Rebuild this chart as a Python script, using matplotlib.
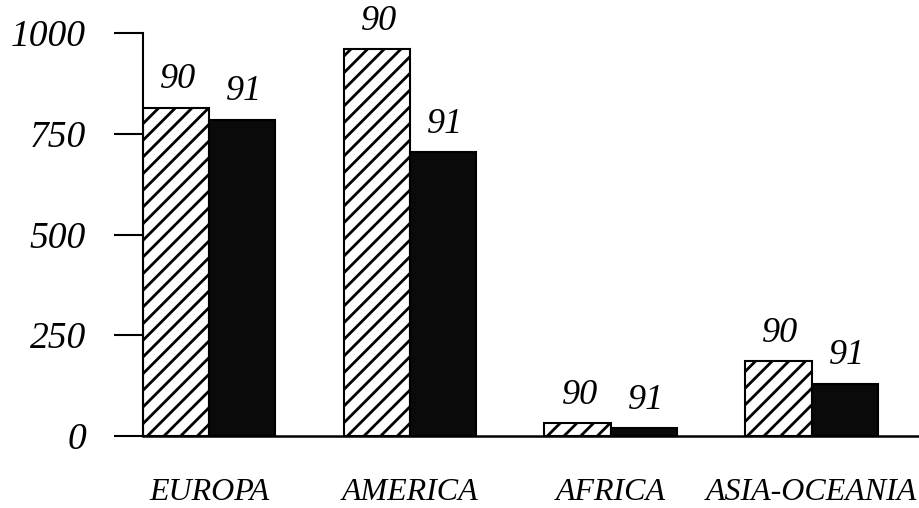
import matplotlib
matplotlib.use("Agg")
import matplotlib.pyplot as plt
import numpy as np

categories = ["EUROPA", "AMERICA", "AFRICA", "ASIA-OCEANIA"]
values_90 = [815, 960, 32, 186]
values_91 = [785, 705, 20, 130]
series_labels = ["90", "91"]
yticks = [0, 250, 500, 750, 1000]

plt.rcParams['font.family'] = ['Liberation Serif', 'DejaVu Serif']
plt.rcParams['hatch.linewidth'] = 2.0

fig = plt.figure(figsize=(9.2, 5.08), dpi=100)
ax = fig.add_axes([143/920, 72/508, (918-143)/920, (436-33)/508])

x = np.arange(len(categories))
w = 0.33
ax.bar(x - w/2, values_90, width=w, facecolor='white', edgecolor='black',
       hatch='//', linewidth=1.5)
ax.bar(x + w/2, values_91, width=w, facecolor='#0a0a0a', edgecolor='black',
       linewidth=1.5)

for xi, v in zip(x, values_90):
    ax.text(xi - w/2 + 0.01, v + 28, series_labels[0], ha='center', va='bottom',
            fontsize=26, style='italic')
for xi, v in zip(x, values_91):
    ax.text(xi + w/2 + 0.01, v + 28, series_labels[1], ha='center', va='bottom',
            fontsize=26, style='italic')

ax.set_xlim(-0.329, 3.53)
ax.set_ylim(0, 1000)
ax.set_yticks(yticks)
ax.set_yticklabels([str(t) for t in yticks], fontsize=27, style='italic')
ax.set_xticks(x)
ax.set_xticklabels(categories, fontsize=23, style='italic')
ax.tick_params(axis='x', length=0, pad=30)
ax.tick_params(axis='y', length=21, width=1.5, direction='out', pad=20)

for s in ['top', 'right']:
    ax.spines[s].set_visible(False)
ax.spines['left'].set_linewidth(1.5)
ax.spines['bottom'].set_linewidth(1.8)

fig.savefig("out.png", dpi=100)
